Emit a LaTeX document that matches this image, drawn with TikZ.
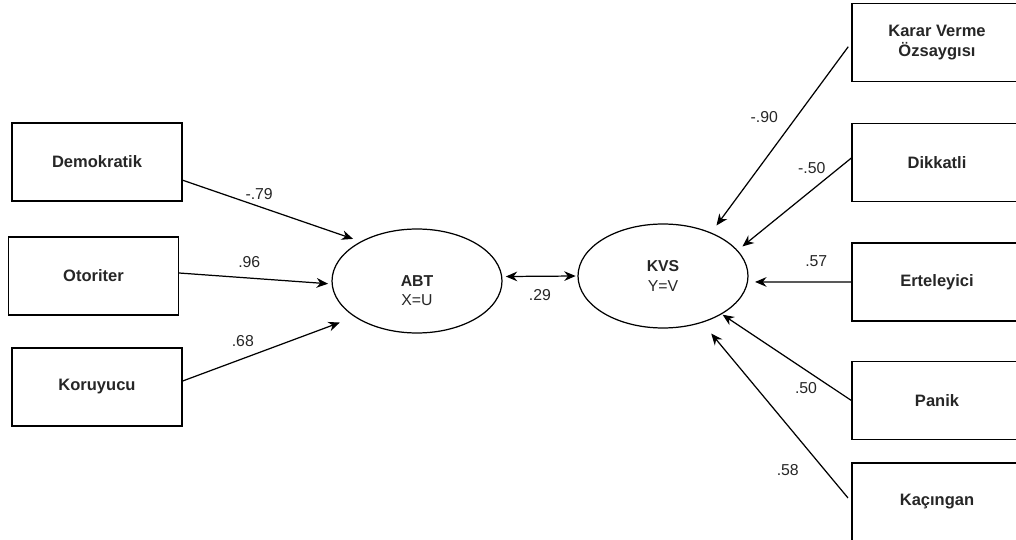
\documentclass[tikz,border=0pt]{standalone}
\usepackage{fontspec}
\setmainfont{Liberation Sans}
\usetikzlibrary{arrows.meta,shapes.geometric}
\begin{document}
\begin{tikzpicture}[x=0.02cm,y=-0.02cm]
  \tikzstyle{every node}=[font=\fontsize{9}{11}\selectfont,text=black!85]
  \tikzstyle{obs}=[rectangle,draw,line width=0.75pt,minimum width=3.4cm,minimum height=1.56cm,align=center,font=\fontsize{9.4}{11}\selectfont\bfseries]
  \tikzstyle{lat}=[ellipse,draw,line width=0.7pt,minimum width=3.4cm,minimum height=2.08cm,inner sep=0pt,align=center]
  \tikzstyle{load}=[-{Stealth[length=6.5pt,width=5.5pt]},line width=0.7pt]
  \clip (0,0) rectangle (1016,540);
  \node[obs] (demo) at (97,162) {Demokratik};
  \node[obs] (otor) at (93.5,276) {Otoriter};
  \node[obs] (koru) at (97,387) {Koruyucu};
  \node[lat] (abt) at (417,281) {\raisebox{-0.3cm}[0pt][0pt]{\begin{tabular}{@{}c@{}}\textbf{ABT}\\X=U\end{tabular}}};
  \node[lat] (kvs) at (663,276) {\textbf{KVS}\\Y=V};
  \node[obs] (karar) at (937,42.5) {Karar Verme\\Özsaygısı};
  \node[obs] (dikk) at (937,162.5) {Dikkatli};
  \node[obs] (erte) at (937,282) {Erteleyici};
  \node[obs] (panik) at (937,400.5) {Panik};
  \node[obs] (kacin) at (937,502) {Kaçıngan};
  \draw[load,shorten >=4.5pt] (demo.-12) -- node[pos=.43,above]{-.79} (abt.145);
  \draw[load,shorten >=2pt] (otor.2) -- node[pos=.46,above=2pt]{.96} (abt.182);
  \draw[load,shorten >=9pt] (koru.4) -- node[pos=.35,above=3pt]{.68} (abt.210);
  \draw[{Stealth[length=6.5pt,width=5.5pt]}-{Stealth[length=6.5pt,width=5.5pt]},line width=0.7pt,shorten <=2pt,shorten >=1pt] (abt.3) -- node[below=4pt]{.29} (kvs.west);
  \draw[load,shorten <=3pt,shorten >=5pt] (karar.west) -- node[pos=.39,left=7pt]{-.90} (kvs.42);
  \draw[load,shorten >=3.5pt] (dikk.177) -- node[pos=.11,left=4pt]{-.50} (kvs.19);
  \draw[load,shorten >=4pt] (erte.west) -- node[pos=.34,above=5pt]{.57} (kvs.-4);
  \draw[load,shorten >=0.5pt] (panik.west) -- node[pos=.35,below=3pt]{.50} (kvs.-33);
  \draw[load,shorten <=3pt,shorten >=8pt] (kacin.west) -- node[pos=.18,left=11pt]{.58} (kvs.-50);
\end{tikzpicture}
\end{document}
